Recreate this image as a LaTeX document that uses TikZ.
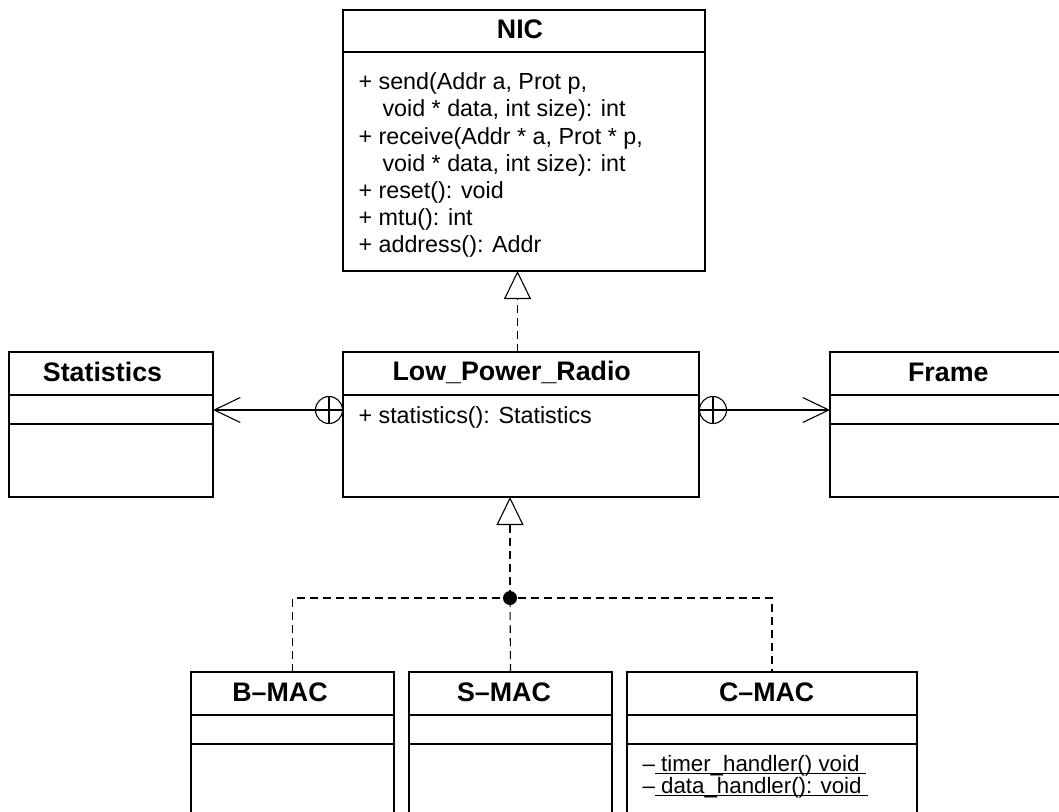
\documentclass[tikz,border=0pt]{standalone}
\usepackage{fontspec}
\setmainfont{Liberation Sans}
\usetikzlibrary{arrows.meta}
\newcommand\titlefont{\fontsize{26.8}{30}\selectfont\bfseries}
\newcommand\bodyfont{\fontsize{23.3}{27}\selectfont}
\newcommand\opfont{\fontsize{22.3}{24}\selectfont}
\newcommand\myul[1]{\setbox0\hbox{#1}\rlap{\rule[-2.6pt]{\wd0}{1pt}}\box0}
\begin{document}
\begin{tikzpicture}[x=1pt,y=-1pt, line width=1.1pt,
  cls/.style={draw, rectangle, anchor=north west, inner sep=0pt, outer sep=0pt},
  ttl/.style={anchor=base, inner sep=0pt, font=\titlefont},
  txt/.style={anchor=base west, inner sep=0pt, font=\bodyfont},
  optxt/.style={anchor=base west, inner sep=0pt, font=\opfont},
  dashln/.style={dash pattern=on 8pt off 5pt},
  realize/.style={dashln, -{Triangle[open, length=28pt, width=27pt]}},
  assoc/.style={-{Straight Barb[length=26pt, width=25pt]}},
]
\useasboundingbox (0,0) rectangle (1059,811);
\clip (0,0) rectangle (1059,811);

% ---------- NIC ----------
\node[cls, minimum width=362pt, minimum height=261pt] (nic) at (343,10) {};
\draw ([yshift=-42pt]nic.north west) -- ([yshift=-42pt]nic.north east);
\node[ttl] (nict) at (520,38) {NIC};
\node[txt] (n1) at (358,89.7) {+ send(Addr a, Prot p,};
\node[txt] (n2) at (382,116.9) {void * data, int size): int};
\node[txt] (n3) at (358,144.1) {+ receive(Addr * a, Prot * p,};
\node[txt] (n4) at (382,171.3) {void * data, int size): int};
\node[txt] (n5) at (358,198.5) {+ reset(): void};
\node[txt] (n6) at (358,225.7) {+ mtu(): int};
\node[txt] (n7) at (358,252.9) {+ address(): Addr};

% ---------- Low_Power_Radio ----------
\node[cls, minimum width=356pt, minimum height=145pt] (lpr) at (343,352) {};
\draw ([yshift=-43pt]lpr.north west) -- ([yshift=-43pt]lpr.north east);
\node[ttl] (lprt) at (511.7,380) {Low\_Power\_Radio};
\node[txt] (lpr1) at (358,423) {+ statistics(): Statistics};

% ---------- Statistics ----------
\node[cls, minimum width=204pt, minimum height=145pt] (stat) at (9,352) {};
\draw ([yshift=-43pt]stat.north west) -- ([yshift=-43pt]stat.north east);
\draw ([yshift=-72pt]stat.north west) -- ([yshift=-72pt]stat.north east);
\node[ttl] (statt) at (102.5,381.7) {Statistics};

% ---------- Frame ----------
\node[cls, minimum width=252pt, minimum height=145pt] (frame) at (830,352) {};
\draw ([yshift=-43pt]frame.north west) -- ([yshift=-43pt]frame.north east);
\draw ([yshift=-72pt]frame.north west) -- ([yshift=-72pt]frame.north east);
\node[ttl] (framet) at (948.3,381.7) {Frame};

% ---------- MACs ----------
\node[cls, minimum width=203pt, minimum height=170pt] (bmac) at (191,672) {};
\draw ([yshift=-43pt]bmac.north west) -- ([yshift=-43pt]bmac.north east);
\draw ([yshift=-72pt]bmac.north west) -- ([yshift=-72pt]bmac.north east);
\node[ttl] (bmact) at (280,701.7) {B–MAC};

\node[cls, minimum width=203pt, minimum height=170pt] (smac) at (409,672) {};
\draw ([yshift=-43pt]smac.north west) -- ([yshift=-43pt]smac.north east);
\draw ([yshift=-72pt]smac.north west) -- ([yshift=-72pt]smac.north east);
\node[ttl] (smact) at (504,701.5) {S–MAC};

\node[cls, minimum width=290pt, minimum height=170pt] (cmac) at (627,672) {};
\draw ([yshift=-43pt]cmac.north west) -- ([yshift=-43pt]cmac.north east);
\draw ([yshift=-72pt]cmac.north west) -- ([yshift=-72pt]cmac.north east);
\node[ttl] (cmact) at (766.7,701.7) {C–MAC};
\node[optxt] (c1) at (642,771) {–\myul{\ timer\_handler() void\ }};
\node[optxt] (c2) at (642,793) {–\myul{\ data\_handler(): void\ }};

% ---------- connectors ----------
\coordinate (nicb) at (517.5,271);
\draw[realize] (nicb |- lpr.north) -- (nicb);

\coordinate (hub) at (510,598);
\draw[realize] (hub) -- (hub |- lpr.south);
\draw[dashln] (bmac.north) |- (hub) -| (cmac.north);
\draw[dashln] (smac.north) -- (hub);
\fill (hub) circle[radius=7pt];

\coordinate (lprL) at (343,410);
\draw[assoc] (lprL) -- (stat.east |- lprL);
\draw ([xshift=-14pt]lprL) circle[radius=13.5pt];
\draw ([xshift=-14pt,yshift=13.5pt]lprL) -- ([xshift=-14pt,yshift=-13.5pt]lprL);

\coordinate (lprR) at (699,410);
\draw[assoc] (lprR) -- (frame.west |- lprR);
\draw ([xshift=14pt]lprR) circle[radius=13.5pt];
\draw ([xshift=14pt,yshift=13.5pt]lprR) -- ([xshift=14pt,yshift=-13.5pt]lprR);
\end{tikzpicture}
\end{document}
